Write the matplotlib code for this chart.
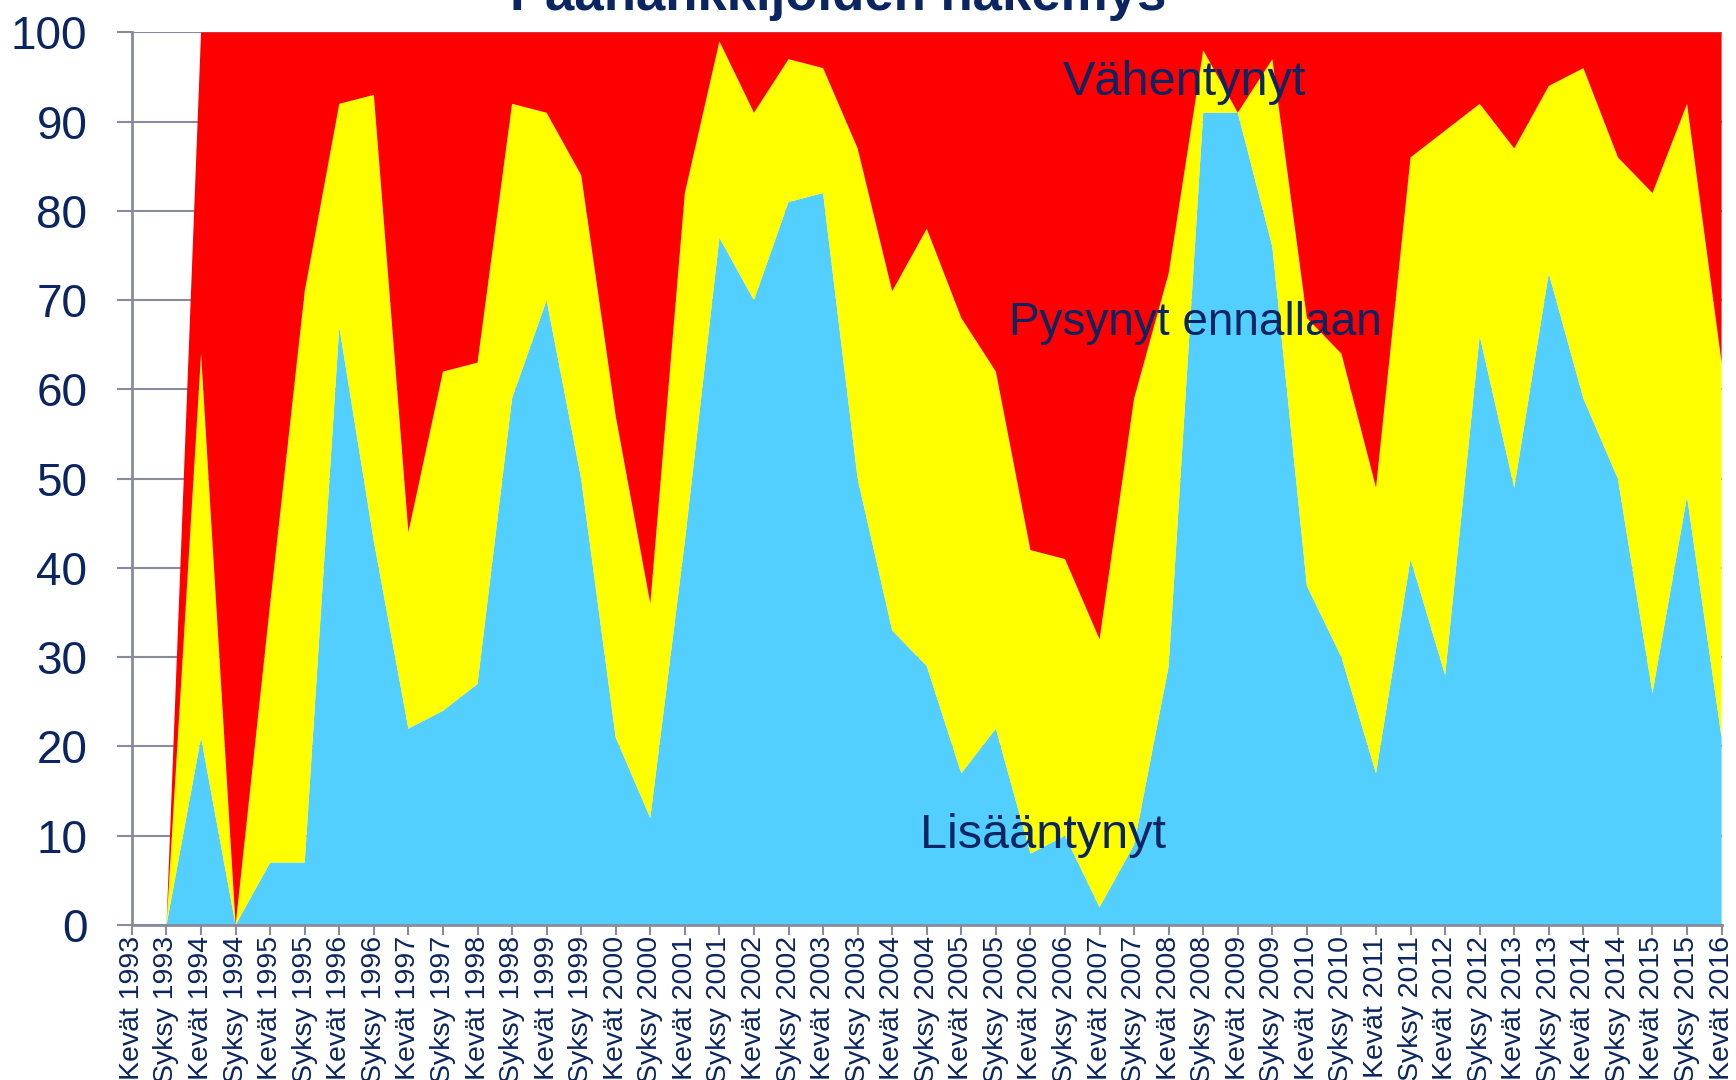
import matplotlib.pyplot as plt

plt.rcParams['font.family'] = ['Liberation Sans', 'DejaVu Sans']

# Data (percent of respondents)
categories = []
for year in range(1993, 2016):
    categories.append('Kevät %d' % year)
    categories.append('Syksy %d' % year)
categories.append('Kevät 2016')

lisaantynyt = [0, 0, 21, 0, 7, 7, 67, 43, 22, 24, 27, 59, 70, 50, 21, 12,
               43, 77, 70, 81, 82, 50, 33, 29, 17, 22, 8, 10, 2, 9, 29, 91,
               91, 76, 38, 30, 17, 41, 28, 66, 49, 73, 59, 50, 26, 48, 21]
pysynyt = [0, 0, 43, 0, 29, 64, 25, 50, 22, 38, 36, 33, 21, 34, 36, 24,
           39, 22, 21, 16, 14, 37, 38, 49, 51, 40, 34, 31, 30, 50, 44, 7,
           0, 21, 30, 34, 32, 45, 61, 26, 38, 21, 37, 36, 56, 44, 42]
vahentynyt = [0, 0, 36, 100, 64, 29, 8, 7, 56, 38, 37, 8, 9, 16, 43, 64,
              18, 1, 9, 3, 4, 13, 29, 22, 32, 38, 58, 59, 68, 41, 27, 2,
              9, 3, 32, 36, 51, 14, 11, 8, 13, 6, 4, 14, 18, 8, 37]

navy = '#0A2561'
grey = '#888B9C'

fig = plt.figure(figsize=(17.36, 10.8), dpi=100)
ax = fig.add_axes([0.076, 0.1435, 0.9157, 0.8265])

x = list(range(len(categories)))
ax.stackplot(x, lisaantynyt, pysynyt, vahentynyt,
             colors=['#53CFFF', '#FFFF00', '#FF0000'], linewidth=0)

ax.set_xlim(0, len(categories) - 1)
ax.set_ylim(0, 100)
ax.set_yticks(range(0, 101, 10))
ax.set_xticks(x)
ax.set_xticklabels(categories, rotation=90, fontsize=20.5, color=navy)
ax.tick_params(axis='y', labelsize=33, labelcolor=navy, color=grey,
               length=11, width=1.5, pad=21)
ax.tick_params(axis='x', color=grey, length=7, width=1.5, pad=1)

ax.set_axisbelow(True)
ax.yaxis.grid(True, color=grey, linewidth=1.5)
for side in ['top', 'right']:
    ax.spines[side].set_visible(False)
for side in ['left', 'bottom']:
    ax.spines[side].set_color(grey)
    ax.spines[side].set_linewidth(2)

# Series labels inside the areas
ax.text(0.5857, 0.93, 'Vähentynyt', transform=ax.transAxes, fontsize=35,
        color=navy, va='baseline')
ax.text(0.552, 0.661, 'Pysynyt ennallaan', transform=ax.transAxes,
        fontsize=33, color=navy, va='baseline')
ax.text(0.4957, 0.086, 'Lisääntynyt', transform=ax.transAxes, fontsize=35,
        color=navy, va='baseline')

# Title, partly cut off at the top edge as in the original
fig.text(0.4828, 0.9912, 'Päähankkijoiden näkemys', ha='center',
         va='baseline', fontsize=38, fontweight='bold', color=navy)

fig.savefig('out.png', dpi=100)
